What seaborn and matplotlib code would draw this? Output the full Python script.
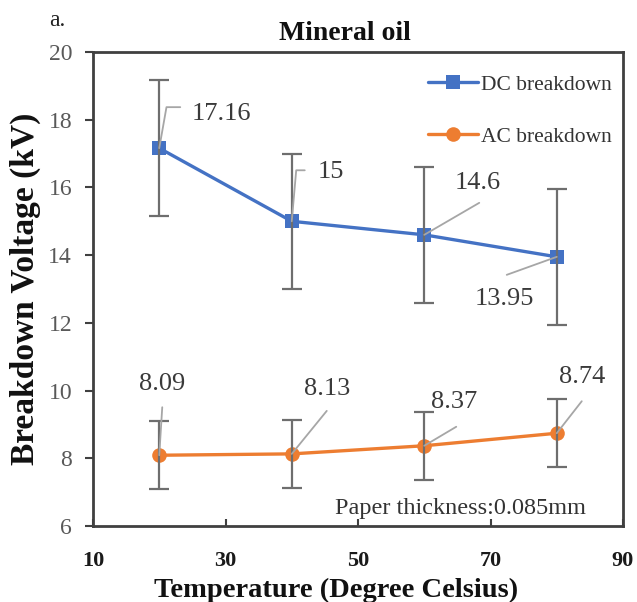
import matplotlib
matplotlib.use("Agg")
import matplotlib.pyplot as plt
import seaborn as sns
import pandas as pd

# ---- data ----
temperatures = [20, 40, 60, 80]
dc_values = [17.16, 15, 14.6, 13.95]
ac_values = [8.09, 8.13, 8.37, 8.74]
dc_errors = [2, 2, 2, 2]
ac_errors = [1, 1, 1, 1]
series_names = ["DC breakdown", "AC breakdown"]
x_ticks = [10, 30, 50, 70, 90]
y_ticks = [6, 8, 10, 12, 14, 16, 18, 20]
dc_labels = ["17.16", "15", "14.6", "13.95"]
ac_labels = ["8.09", "8.13", "8.37", "8.74"]

# label layout: offsets in pixels (dx, dy up) for text centre and leader end
dc_text_off = [(62, 34), (39, 49), (53, 52), (-52, -42)]
dc_lead_off = [(21, 41), (13, 51), (55, 32), (-50, -18)]
dc_lead_style = ["angle,angleA=0,angleB=80,rad=0", "angle,angleA=0,angleB=85,rad=0", "arc3", "arc3"]
ac_text_off = [(3, 71), (35, 65), (30, 44), (25, 56)]
ac_lead_off = [(3, 48), (35, 43), (32, 19), (25, 32)]
ac_lead_style = ["arc3"] * 4

sns.set_theme(style="white")
plt.rcParams["font.family"] = ["Liberation Serif", "DejaVu Serif"]

colors = {"DC breakdown": "#4472C4", "AC breakdown": "#ED7D31"}
markers = {"DC breakdown": "s", "AC breakdown": "o"}

df = pd.DataFrame({
    "Temperature": temperatures * 2,
    "Voltage": dc_values + ac_values,
    "Series": [series_names[0]] * len(temperatures) + [series_names[1]] * len(temperatures),
})

fig = plt.figure(figsize=(6.37, 6.02), dpi=100)
ax = fig.add_axes([93 / 637, 76 / 602, 530 / 637, 474 / 602])

sns.lineplot(data=df, x="Temperature", y="Voltage", hue="Series", style="Series",
             hue_order=series_names, style_order=series_names,
             palette=colors, markers=markers, dashes=False, errorbar=None,
             linewidth=2.4, markersize=10.5, markeredgewidth=0, ax=ax, zorder=2)

ax.errorbar(temperatures, dc_values, yerr=dc_errors, fmt="none", ecolor="#6e6e6e",
            elinewidth=1.6, capsize=7, capthick=1.6, zorder=3)
ax.errorbar(temperatures, ac_values, yerr=ac_errors, fmt="none", ecolor="#6e6e6e",
            elinewidth=1.6, capsize=7, capthick=1.6, zorder=3)

px = 0.72  # points per pixel at 100 dpi
for xs, ys, labs, toff, loff, lsty in [
        (temperatures, dc_values, dc_labels, dc_text_off, dc_lead_off, dc_lead_style),
        (temperatures, ac_values, ac_labels, ac_text_off, ac_lead_off, ac_lead_style)]:
    for x, y, lab, (tx, ty), (lx, ly), cs in zip(xs, ys, labs, toff, loff, lsty):
        ax.annotate("", xy=(x, y), xytext=(lx * px, ly * px), textcoords="offset points",
                    arrowprops=dict(arrowstyle="-", color="#a6a6a6", lw=1.3,
                                    shrinkA=0, shrinkB=0, connectionstyle=cs),
                    zorder=4)
        ax.annotate(lab, xy=(x, y), xytext=(tx * px, ty * px), textcoords="offset points",
                    ha="center", va="center", fontsize=19, color="#3a3a3a", zorder=5)

ax.set_xlim(10, 90)
ax.set_ylim(6, 20)
ax.set_xticks(x_ticks)
ax.set_yticks(y_ticks)
ax.tick_params(axis="x", direction="in", length=5, width=1.5, color="#404040",
               pad=18, labelsize=16, labelcolor="#1a1a1a", bottom=True)
ax.tick_params(axis="y", direction="out", length=6, width=1.5, color="#404040",
               pad=9, labelsize=17, labelcolor="#595959", left=True)
for lab in ax.get_xticklabels():
    lab.set_fontweight("bold")
for s in ax.spines.values():
    s.set_color("#404040")
    s.set_linewidth(2)
    s.set_visible(True)

ax.set_xlabel("Temperature (Degree Celsius)", fontsize=20.5, fontweight="bold",
              color="#111111", va="baseline")
ax.xaxis.set_label_coords(0.458, -(597 - 526) / 474)
ax.set_ylabel("Breakdown Voltage (kV)", fontsize=24, fontweight="bold",
              color="#111111", labelpad=5)

fig.text(345 / 637, 1 - 33 / 602, "Mineral oil", ha="center", va="center",
         fontsize=20, fontweight="bold", color="#111111")
fig.text(57 / 637, 1 - 21 / 602, "a.", ha="center", va="center",
         fontsize=17, color="#222222")
ax.text(0.693, 0.036, "Paper thickness:0.085mm", transform=ax.transAxes,
        ha="center", va="center", fontsize=17.5, color="#333333")

handles, labels = ax.get_legend_handles_labels()
ax.legend(handles, labels, loc="upper right", bbox_to_anchor=(0.995, 0.97),
          frameon=False, fontsize=15.5, labelspacing=1.48, handlelength=2.3,
          handletextpad=0.15, borderaxespad=0, labelcolor="#333333")

fig.savefig("out.png", dpi=100)
